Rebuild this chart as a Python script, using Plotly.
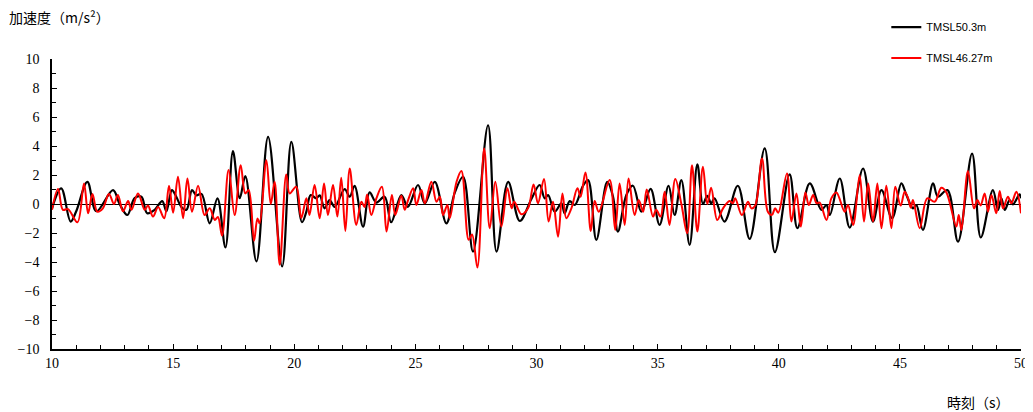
import plotly.graph_objects as go

# TMSL50.3m (black) - extrema
black_t = [10.0, 10.38, 10.77, 11.0, 11.46, 11.83, 12.52, 12.79, 13.11, 13.41, 13.69, 13.93,
           14.24, 14.55, 14.72, 14.95, 15.13, 15.34, 15.55, 15.78, 15.96, 16.17, 16.51, 16.83,
           17.16, 17.47, 17.75, 17.98, 18.44, 18.92, 19.5, 19.88, 20.32, 20.5, 20.68, 20.91,
           21.05, 21.25, 21.46, 21.67, 22.08, 22.29, 22.49, 22.84, 23.11, 23.39, 23.73, 24.0,
           24.42, 24.69, 25.11, 25.39, 25.8, 26.28, 26.63, 26.97, 27.38, 28.0, 28.35, 28.83,
           29.31, 29.79, 30.13, 30.34, 30.48, 30.75, 31.03, 31.16, 31.37, 31.58, 31.92, 32.13,
           32.47, 32.92, 33.16, 33.36, 33.71, 33.98, 34.33, 34.71, 35.08, 35.45, 35.7, 35.98,
           36.32, 36.64, 36.87, 37.05, 37.21, 37.35, 37.76, 38.31, 38.8, 39.42, 39.84, 40.45,
           40.77, 41.28, 41.76, 41.97, 42.11, 42.52, 42.93, 43.48, 43.89, 44.24, 44.68, 45.06,
           45.27, 45.54, 45.68, 45.95, 46.37, 46.57, 46.96, 47.4, 47.98, 48.34, 48.84, 49.05,
           49.19, 49.33, 49.53, 49.67, 49.94, 50.0]
black_v = [-0.3, 1.08, -1.21, -0.5, 1.53, -0.5, 0.96, 0.0, -0.76, 0.4, 0.5, -0.64,
           -0.4, 0.2, -0.5, 0.96, 0.5, -0.2, -0.4, 0.96, 0.6, 0.7, -1.33, 0.39,
           -3.0, 3.64, 0.4, 1.92, -3.96, 4.63, -4.31, 4.28, -1.26, -0.53, 0.62, 0.39,
           0.6, -0.3, 0.27, -0.2, 1.03, 0.5, 1.26, -1.56, 0.8, 0.1, 0.5, -1.26,
           0.62, -0.2, 1.31, 0.05, 1.53, -1.33, 0.8, 1.88, -3.28, 5.43, -3.28, 1.53,
           -1.17, 0.35, 1.31, 0.39, 0.62, -0.53, 0.05, -0.64, 0.2, -0.07, 1.26, 1.65,
           -2.47, 1.53, 0.5, -1.9, 0.62, 1.26, -0.53, 1.05, -1.44, 1.26, -0.76, 1.65,
           -2.82, 2.73, 0.0, 0.57, 0.05, 0.39, -1.21, 1.26, -2.4, 3.83, -3.32, 2.04,
           -1.67, 1.42, -0.41, -0.07, -0.76, 1.76, -1.63, 2.45, -1.21, 0.96, -0.98, 1.42,
           0.62, -0.3, -0.07, -1.79, 1.42, 0.5, 0.96, -2.59, 3.48, -2.31, 0.96, -0.41,
           0.39, -0.41, 0.27, -0.02, 0.66, 0.39]

# TMSL46.27m (red)
red_t = [10.0, 10.25, 10.45, 10.66, 11.05, 11.32, 11.49, 11.67, 11.87, 12.1, 12.35, 12.56,
         12.72, 12.93, 13.14, 13.28, 13.55, 13.83, 13.96, 14.17, 14.38, 14.63, 14.83, 15.0,
         15.2, 15.41, 15.59, 15.78, 16.03, 16.3, 16.51, 16.72, 16.85, 17.02, 17.29, 17.54,
         17.79, 17.98, 18.12, 18.34, 18.48, 18.57, 18.85, 19.03, 19.19, 19.4, 19.67, 19.81,
         20.08, 20.29, 20.5, 20.63, 20.84, 21.05, 21.23, 21.39, 21.6, 21.78, 21.94, 22.11,
         22.29, 22.56, 22.77, 22.9, 23.01, 23.18, 23.39, 23.62, 23.81, 24.03, 24.17, 24.42,
         24.56, 24.7, 24.91, 25.04, 25.25, 25.39, 25.66, 25.87, 26.01, 26.14, 26.32, 26.42,
         26.7, 26.9, 27.2, 27.34, 27.56, 27.84, 28.07, 28.3, 28.55, 28.8, 28.97, 29.08,
         29.38, 29.65, 29.88, 30.06, 30.31, 30.5, 30.68, 30.89, 31.07, 31.23, 31.44, 31.69,
         31.82, 32.02, 32.24, 32.4, 32.57, 33.02, 33.25, 33.43, 33.64, 33.8, 34.05, 34.22,
         34.4, 34.55, 34.81, 34.94, 35.12, 35.29, 35.49, 35.73, 35.98, 36.22, 36.42, 36.64,
         36.87, 37.05, 37.21, 37.46, 37.7, 37.97, 38.11, 38.2, 38.48, 38.73, 38.87, 39.03,
         39.31, 39.55, 39.72, 39.85, 39.98, 40.34, 40.52, 40.73, 40.91, 41.1, 41.24, 41.42,
         41.56, 41.69, 41.97, 42.17, 42.38, 42.72, 42.86, 43.07, 43.34, 43.52, 43.69, 43.89,
         44.07, 44.24, 44.44, 44.65, 44.81, 45.03, 45.2, 45.34, 45.45, 45.54, 45.82, 46.13,
         46.44, 46.71, 46.92, 47.33, 47.43, 47.54, 47.81, 48.06, 48.2, 48.33, 48.5, 48.64,
         48.78, 48.98, 49.12, 49.26, 49.46, 49.6, 49.81, 50.0]
red_v = [-0.4, 1.03, -0.4, -0.35, -1.26, 1.42, -0.64, 0.69, -0.53, -0.3, 0.69, 0.0,
         0.62, -0.5, 0.2, -0.4, 0.73, -0.4, -0.1, -0.87, -0.2, -0.98, 1.26, -0.6,
         1.88, -0.98, 1.76, -0.53, 1.26, -0.76, -0.3, -1.1, -0.9, -2.18, 2.34, -0.76,
         2.68, 0.73, 0.96, -2.54, -1.0, -1.33, 3.02, 0.0, 1.53, -4.19, 2.04, 0.73,
         1.19, -0.98, 0.39, -0.76, 1.31, -0.98, 1.42, -0.76, 1.31, -0.87, 1.81, -1.86,
         2.45, -1.44, 0.16, -0.2, 0.66, -0.76, 0.39, 1.19, -1.9, 0.62, -0.76, 0.57,
         -0.4, 0.27, 1.08, -0.07, 0.96, 0.05, 1.53, 0.16, 0.5, -0.76, -0.07, -0.98,
         1.53, 2.27, -2.47, -2.1, -4.38, 3.83, -1.67, 1.53, -1.56, 1.08, -0.3, 0.16,
         -0.71, -0.3, 1.35, 0.05, 1.72, -1.21, 0.16, -2.25, 0.73, -0.98, -0.3, 1.08,
         0.5, 2.18, -1.86, 0.2, -0.53, 1.65, -1.79, 1.42, -1.44, 1.76, -0.76, 0.27,
         -0.53, 1.0, -0.87, -0.4, -0.87, 0.85, -1.44, 1.72, 0.0, -2.02, 2.68, -1.9,
         2.57, 0.0, 1.12, -1.1, -0.3, 0.2, 0.05, 0.4, -0.76, 0.16, -0.3, -0.1,
         3.14, -0.53, -0.75, -0.3, -0.6, 2.11, -1.21, 0.73, -1.56, 0.8, -0.07, 0.62,
         0.05, 0.1, -1.1, 0.39, 0.8, -0.53, -0.07, -1.44, 1.99, -1.21, 1.42, -1.21,
         1.42, -1.67, 1.26, -1.67, 1.19, -0.11, 0.85, 0.39, -0.25, 0.27, -1.67, 0.39,
         0.16, 1.12, 0.8, -1.56, -0.76, -1.79, 2.27, -0.3, 0.27, -0.1, 0.73, -0.53,
         0.62, -0.64, 0.89, -0.3, 0.5, 0.05, 0.85, -0.64]

series_names = ["TMSL50.3m", "TMSL46.27m"]
y_ticks = [-10, -8, -6, -4, -2, 0, 2, 4, 6, 8, 10]
x_ticks = [10, 15, 20, 25, 30, 35, 40, 45, 50]

num_font = "Liberation Serif, Noto Sans CJK JP, serif"
cjk_font = "Noto Sans CJK JP, sans-serif"

fig = go.Figure()
fig.add_trace(go.Scatter(x=black_t, y=black_v, mode="lines", name=series_names[0],
                         legendgroup="a",
                         line=dict(color="#000000", width=2.2, shape="spline", smoothing=1.0)))
fig.add_trace(go.Scatter(x=red_t, y=red_v, mode="lines", name=series_names[1],
                         legendgroup="b",
                         line=dict(color="#FF0000", width=2, shape="spline", smoothing=1.0)))

# page body has an 8px margin, so the figure is sized/offset to compensate
fig.update_layout(
    width=1025, height=404,
    margin=dict(l=44, r=12, t=51, b=63, autoexpand=False),
    paper_bgcolor="white", plot_bgcolor="white",
    showlegend=True,
    legend=dict(x=0.861, y=1.16, xanchor="left", yanchor="top",
                font=dict(family="Liberation Sans, Arial, sans-serif", size=11, color="#000"),
                bgcolor="rgba(0,0,0,0)", tracegroupgap=12, itemwidth=30),
    font=dict(family=num_font, size=14, color="#000"),
)
fig.update_xaxes(
    range=[10, 50], tickvals=x_ticks, ticks="inside", ticklen=5, tickcolor="#000",
    showline=True, linecolor="#000", linewidth=1.5, showgrid=False, zeroline=False,
    minor=dict(dtick=1, ticks="inside", ticklen=4, tickcolor="#000"),
    tickfont=dict(family=num_font, size=14), mirror=False,
)
fig.update_yaxes(
    range=[-10, 10], tickvals=y_ticks, ticks="inside", ticklen=5, tickcolor="#000",
    showline=True, linecolor="#000", linewidth=1.5, showgrid=False,
    zeroline=True, zerolinecolor="#000", zerolinewidth=1,
    minor=dict(dtick=1, ticks="inside", ticklen=4, tickcolor="#000"),
    tickfont=dict(family=num_font, size=14), ticklabelstandoff=8,
)
fig.add_annotation(text="加速度（m/s²）", xref="paper", yref="paper",
                   x=-0.046, y=1.145, xanchor="left", yanchor="middle", showarrow=False,
                   font=dict(family=cjk_font, size=14, color="#000"))
fig.add_annotation(text="時刻（s）", xref="paper", yref="paper",
                   x=0.956, y=-0.183, xanchor="center", yanchor="middle", showarrow=False,
                   font=dict(family=cjk_font, size=14, color="#000"))

fig.write_html("out.html")
